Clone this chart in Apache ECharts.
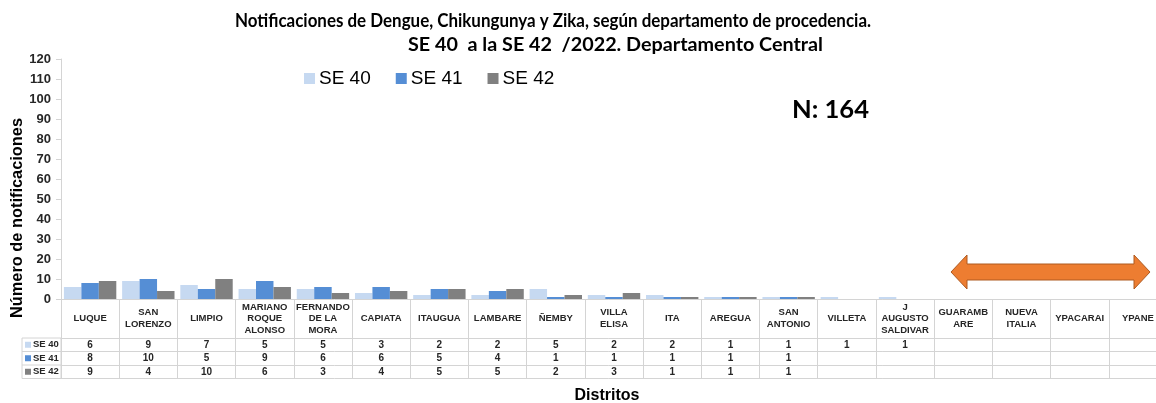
<!DOCTYPE html>
<html>
<head>
<meta charset="utf-8">
<script src="https://cdn.jsdelivr.net/npm/echarts@6/dist/echarts.min.js"></script>
<style>
html, body { margin: 0; padding: 0; background: #fff; }
#main { width: 1156px; height: 403px; }
</style>
</head>
<body>
<div id="main"></div>
<script>
// datos
var distritos = ['LUQUE', 'SAN\nLORENZO', 'LIMPIO', 'MARIANO\nROQUE\nALONSO', 'FERNANDO\nDE LA\nMORA', 'CAPIATA',
  'ITAUGUA', 'LAMBARE', 'ÑEMBY', 'VILLA\nELISA', 'ITA', 'AREGUA', 'SAN\nANTONIO', 'VILLETA',
  'J\nAUGUSTO\nSALDIVAR', 'GUARAMB\nARE', 'NUEVA\nITALIA', 'YPACARAI', 'YPANE'];
var se40 = [6, 9, 7, 5, 5, 3, 2, 2, 5, 2, 2, 1, 1, 1, 1, null, null, null, null];
var se41 = [8, 10, 5, 9, 6, 6, 5, 4, 1, 1, 1, 1, 1, null, null, null, null, null, null];
var se42 = [9, 4, 10, 6, 3, 4, 5, 5, 2, 3, 1, 1, 1, null, null, null, null, null, null];
var semanas = ['SE 40', 'SE 41', 'SE 42'];
var colores = ['#c6d9f1', '#558ed5', '#808080'];

var gris = '#d4d4d4';
var fuente = 'Liberation Sans';
var fuenteTitulo = 'Lato';
var fila = 13.5;   // alto de cada fila de la tabla
var cabecera = 39; // alto de la fila de nombres

// texto con ancho fijo: tamaño dado (o ajustado al ancho) y escala horizontal
var ctx = document.createElement('canvas').getContext('2d');
function texto(t, familia, ancho, x, y, align, size, rot) {
  ctx.font = 'bold 100px ' + familia;
  var natural = ctx.measureText(t).width / 100;
  if (!size) size = ancho / natural;
  return {
    type: 'text', x: x, y: y, rotation: rot || 0,
    scaleX: ancho / (natural * size),
    style: { text: t, font: 'bold ' + size.toFixed(2) + 'px ' + familia, fill: '#000', align: align, verticalAlign: 'middle' }
  };
}

function filaTabla(valores, offset, visible) {
  return {
    type: 'category',
    gridIndex: 0,
    position: 'bottom',
    offset: offset,
    data: valores.map(function (v) { return v == null ? '' : String(v); }),
    axisLine: { show: true, onZero: false, lineStyle: { color: gris } },
    axisTick: { show: false },
    axisLabel: {
      show: visible, interval: 0, margin: fila / 2, verticalAlign: 'middle',
      fontFamily: fuente, fontWeight: 'bold', fontSize: 10, color: '#262626'
    },
    splitLine: { show: false }
  };
}

var myChart = echarts.init(document.getElementById('main'));

var filas = [se40, se41, se42];
var xAxes = [{
  type: 'category',
  data: distritos,
  axisLine: { show: true, onZero: false, lineStyle: { color: gris } },
  axisTick: { show: true, interval: 0, length: cabecera + fila * 3, lineStyle: { color: gris } },
  axisLabel: {
    interval: 0, margin: cabecera / 2, verticalAlign: 'middle', lineHeight: 11.5,
    fontFamily: fuente, fontWeight: 'bold', fontSize: 9.5, color: '#262626'
  },
  splitLine: { show: false }
}];
filas.forEach(function (f, i) {
  xAxes.push(filaTabla(f, cabecera + fila * i, true));
});
xAxes.push(filaTabla(distritos.map(function () { return null; }), cabecera + fila * 3, false));

var series = filas.map(function (f, i) {
  return {
    name: semanas[i],
    type: 'bar',
    xAxisIndex: 0,
    data: f,
    barGap: '0%',
    barCategoryGap: '10%',
    itemStyle: { color: colores[i] }
  };
});

// cabecera izquierda de la tabla (leyenda de filas)
var grLeft = 22, grRight = 61, tablaTop = 299 + cabecera;
var cabeceraFilas = [{
  type: 'rect',
  shape: { x: grLeft, y: tablaTop, width: grRight - grLeft, height: fila * 3 },
  style: { fill: 'none', stroke: gris, lineWidth: 1 }
}];
semanas.forEach(function (s, i) {
  var yc = tablaTop + fila * i + fila / 2;
  if (i > 0) {
    cabeceraFilas.push({
      type: 'line', shape: { x1: grLeft, y1: tablaTop + fila * i, x2: grRight, y2: tablaTop + fila * i },
      style: { stroke: gris, lineWidth: 1 }
    });
  }
  cabeceraFilas.push({
    type: 'rect', shape: { x: 25, y: yc - 3, width: 6, height: 6 }, style: { fill: colores[i] }
  });
  cabeceraFilas.push({
    type: 'text', x: 33, y: yc,
    style: { text: s, font: 'bold 9.5px ' + fuente, fill: '#262626', verticalAlign: 'middle' }
  });
});

var titulo1 = 'Notificaciones de Dengue, Chikungunya y Zika, según departamento de procedencia.';
var titulo2 = 'SE 40  a la SE 42  /2022. Departamento Central';

myChart.setOption({
  animation: false,
  legend: {
    data: semanas,
    left: 299, top: 64,
    itemWidth: 11, itemHeight: 11, itemGap: 25,
    icon: 'rect',
    textStyle: { fontFamily: fuente, fontSize: 19, color: '#000', padding: [0, 0, 0, -1] }
  },
  grid: { left: 61, right: -11, top: 59, bottom: 104, containLabel: false, outerBoundsMode: 'none' },
  xAxis: xAxes,
  yAxis: {
    type: 'value',
    min: 0, max: 120, interval: 10,
    axisLine: { show: true, lineStyle: { color: gris } },
    axisTick: { show: true, length: 5, lineStyle: { color: gris } },
    axisLabel: { margin: 10, fontFamily: fuente, fontWeight: 'bold', fontSize: 13, color: '#262626' },
    splitLine: { show: false }
  },
  series: series,
  graphic: [
    texto(titulo1, fuenteTitulo, 636, 235, 21, 'left', 19),
    texto(titulo2, fuenteTitulo, 415, 408, 45, 'left', 19),
    texto('N: 164', fuenteTitulo, 77, 792, 110, 'left', 24),
    texto('Distritos', fuente, 65, 607, 396, 'center'),
    texto('Número de notificaciones', fuente, 200, 17, 218, 'center', null, Math.PI / 2),
    {
      type: 'polygon',
      shape: { points: [[951, 272], [967, 255], [967, 264], [1134, 264], [1134, 255], [1150, 272],
        [1134, 289], [1134, 280], [967, 280], [967, 289]] },
      style: { fill: '#ed7d31', stroke: '#ae5a21', lineWidth: 1 }
    }
  ].concat(cabeceraFilas)
});
</script>
</body>
</html>
